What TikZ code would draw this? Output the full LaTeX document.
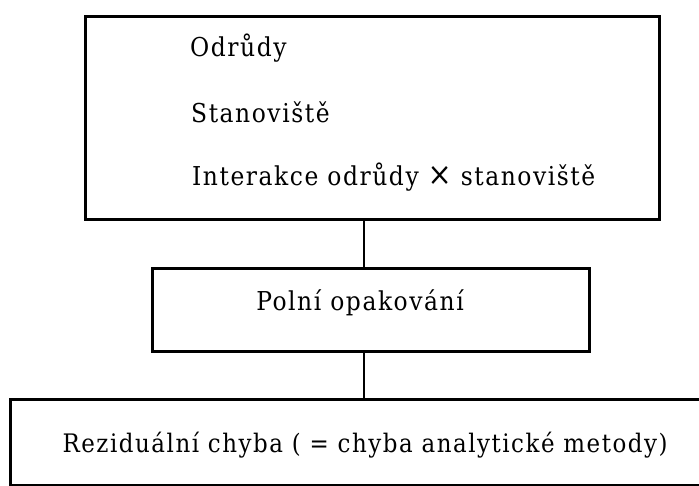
\documentclass[tikz,border=0pt]{standalone}
\usepackage{fontspec}
\setmainfont[LetterSpace=6]{DejaVu Serif Condensed}
\begin{document}
\begin{tikzpicture}[x=1pt,y=-1pt,
  box/.style={draw=black, line width=3pt, rectangle, inner sep=0pt, anchor=north west},
  lbl/.style={inner sep=0pt, font=\fontsize{26}{30}\selectfont},
  conn/.style={draw=black, line width=2.8pt}]
\useasboundingbox (0,0) rectangle (699,485);
\clip (0,0) rectangle (699,485);
\node[box, minimum width=574pt, minimum height=203pt] (top) at (84,15) {};
\node[box, minimum width=437pt, minimum height=83pt] (mid) at (151,267) {};
\node[box, minimum width=700pt, minimum height=86pt] (bot) at (9,398) {};
\node[lbl, anchor=west] (t1) at (190,48) {Odrůdy};
\node[lbl, anchor=west] (t2) at (191,112) {Stanoviště};
\node[lbl, anchor=west] (t3) at (192,177) {Interakce odrůdy {\fontsize{32}{30}\selectfont ×} stanoviště};
\node[lbl] (t4) at (360,303) {Polní opakování};
\node[lbl, font=\fontsize{25.5}{30}\selectfont] (t5) at (365,445) {Reziduální chyba ( = chyba analytické metody)};
\coordinate (cx) at (364,0);
\draw[conn] (top.south -| cx) -- (mid.north -| cx);
\draw[conn] (mid.south -| cx) -- (bot.north -| cx);
\end{tikzpicture}
\end{document}
